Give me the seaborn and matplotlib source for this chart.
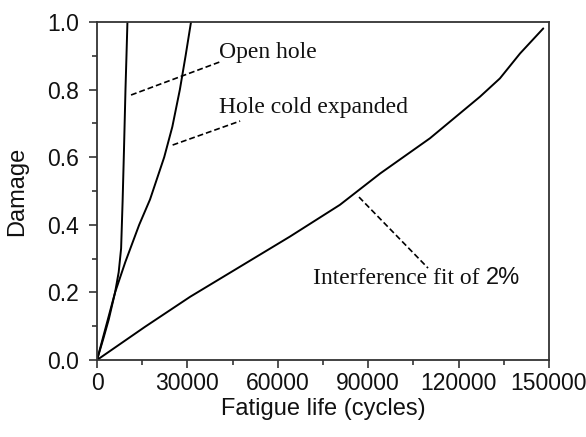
import matplotlib
matplotlib.use("Agg")
import matplotlib.pyplot as plt
from matplotlib.ticker import MultipleLocator
import seaborn as sns
import pandas as pd

# Data
open_x = [0, 2000, 3900, 6000, 7200, 8000, 8500, 8950, 9450, 9780, 10100]
open_y = [0, 0.06, 0.12, 0.20, 0.26, 0.33, 0.47, 0.62, 0.80, 0.90, 1.0]

cold_x = [0, 6000, 9400, 14000, 17600, 22300, 25000, 27500, 29400, 31200]
cold_y = [0, 0.20, 0.29, 0.40, 0.475, 0.60, 0.69, 0.80, 0.90, 1.0]

intf_x = [0, 15900, 30900, 64000, 80600, 94000, 110500, 127100, 133700, 140400, 148100]
intf_y = [0, 0.098, 0.187, 0.365, 0.459, 0.552, 0.656, 0.779, 0.833, 0.907, 0.981]

x_ticks = [0, 30000, 60000, 90000, 120000, 150000]
y_ticks = [0.0, 0.2, 0.4, 0.6, 0.8, 1.0]

labels = ["Open hole", "Hole cold expanded", "Interference fit of"]

sns.set_style("ticks")
plt.rcParams['font.family'] = ['Liberation Sans', 'DejaVu Sans']

fig = plt.figure(figsize=(5.86, 4.37), dpi=100)
ax = fig.add_axes([97/586, 1-360/437, 452/586, 338/437])

for xs, ys in [(open_x, open_y), (cold_x, cold_y), (intf_x, intf_y)]:
    df = pd.DataFrame({"cycles": xs, "damage": ys})
    sns.lineplot(data=df, x="cycles", y="damage", estimator=None, sort=False,
                 color="black", lw=1.4, ax=ax)

ax.set_xlim(0, 150000)
ax.set_ylim(0, 1.0)
ax.set_xticks(x_ticks)
ax.set_xticklabels([str(v) for v in x_ticks])
ax.set_yticks(y_ticks)
ax.set_yticklabels([f"{v:.1f}" for v in y_ticks])
ax.xaxis.set_minor_locator(MultipleLocator(15000))
ax.yaxis.set_minor_locator(MultipleLocator(0.1))
ax.tick_params(which="major", direction="out", length=6, width=1.1, labelsize=16.5,
               color="#222222", labelcolor="#111111")
ax.tick_params(axis="x", which="major", pad=3)
ax.tick_params(axis="y", which="major", pad=7)
ax.tick_params(which="minor", direction="out", length=3.5, width=1.1, color="#222222")
ax.tick_params(top=False, right=False, which="both")
for s in ax.spines.values():
    s.set_linewidth(1.3)
    s.set_color("#333333")

ax.set_xlabel("Fatigue life (cycles)", fontsize=17, labelpad=2, color="#111111")
ax.set_ylabel("Damage", fontsize=17, color="#111111")
ax.yaxis.set_label_coords(-0.152, 0.5)

serif = ['Liberation Serif', 'DejaVu Serif']
dash = (0, (3.5, 1.8))
ax.plot([11300, 40800], [0.784, 0.882], color="black", lw=1.2, linestyle=dash)
ax.text(40500, 0.911, labels[0], family=serif, fontsize=17, va="center", ha="left", color="#111111")
ax.plot([25100, 47500], [0.636, 0.707], color="black", lw=1.2, linestyle=dash)
ax.text(40500, 0.746, labels[1], family=serif, fontsize=17, va="center", ha="left", color="#111111")
ax.plot([86950, 109850], [0.482, 0.272], color="black", lw=1.2, linestyle=dash)
t = ax.text(71700, 0.24, labels[2], family=serif, fontsize=17, va="center", ha="left", color="#111111")
ax.annotate("2%", xy=(1, 0), xycoords=t, xytext=(4.5, 0), textcoords="offset points",
            va="bottom", ha="left", fontsize=17, color="#111111")

fig.savefig("out.png", dpi=100)
